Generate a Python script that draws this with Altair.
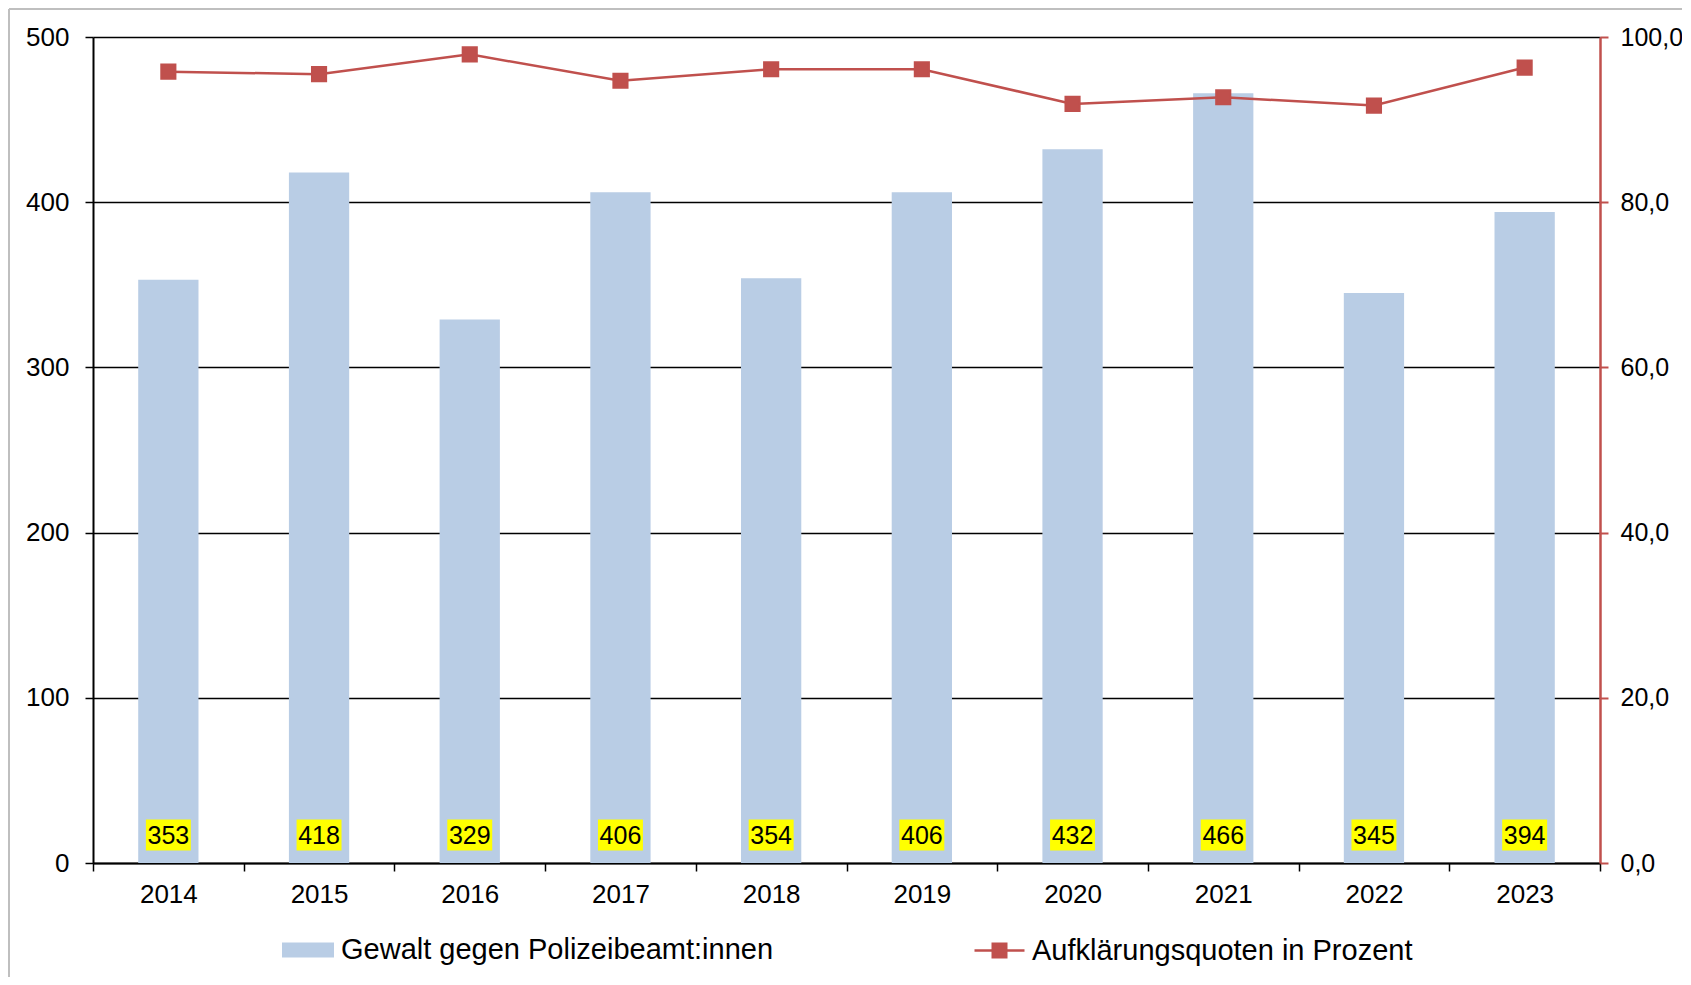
import altair as alt
import pandas as pd

years = ["2014", "2015", "2016", "2017", "2018", "2019", "2020", "2021", "2022", "2023"]
cases = [353, 418, 329, 406, 354, 406, 432, 466, 345, 394]
rates = [95.8, 95.5, 97.9, 94.7, 96.1, 96.1, 91.9, 92.7, 91.7, 96.3]
left_ticks = [0, 100, 200, 300, 400, 500]
right_ticks = [0, 20, 40, 60, 80, 100]
bar_label = "Gewalt gegen Polizeibeamt:innen"
line_label = "Aufklärungsquoten in Prozent"

BAR = "#B9CDE5"
RED = "#C0504D"
FONT = "Liberation Sans"

df = pd.DataFrame({"year": years, "cases": cases, "rate": rates})
df["s_bar"] = bar_label
df["s_line"] = line_label

base = alt.Chart(df)

x_enc = alt.X(
    "year:N",
    title=None,
    scale=alt.Scale(paddingInner=0, paddingOuter=0),
    axis=alt.Axis(
        labelAngle=0, tickBand="extent", domainColor="black", domainWidth=2,
        tickColor="black", tickSize=8, tickWidth=1.5, labelFontSize=26,
        labelPadding=10, labelColor="black", grid=False, labelFont=FONT,
    ),
)

one = alt.Chart(pd.DataFrame({"a": [0]}))
frame_left = one.mark_rule(color="#BFBFBF", strokeWidth=2).encode(
    x=alt.value(-84), y=alt.value(-28), y2=alt.value(3000)
)
frame_top = one.mark_rule(color="#BFBFBF", strokeWidth=2).encode(
    x=alt.value(-84), x2=alt.value(3000), y=alt.value(-28)
)

bars = base.mark_bar(width=alt.RelativeBandSize(0.4)).encode(
    x=x_enc,
    y=alt.Y(
        "cases:Q",
        title=None,
        scale=alt.Scale(domain=[0, 500], nice=False, zero=True),
        axis=alt.Axis(
            values=left_ticks, grid=True, gridColor="black", gridWidth=1.3,
            domainColor="black", domainWidth=2, tickColor="black", tickSize=8,
            tickWidth=1.5, labelFontSize=26, labelPadding=16, labelColor="black",
            labelFont=FONT,
        ),
    ),
    color=alt.Color(
        "s_bar:N",
        scale=alt.Scale(range=[BAR]),
        legend=alt.Legend(
            title=None, orient="none", legendX=189, legendY=887,
            symbolType="M-1,-0.29 L1,-0.29 L1,0.29 L-1,0.29 Z",
            symbolSize=2704, symbolStrokeWidth=0, labelFontSize=29,
            labelFont=FONT, labelColor="black", labelOffset=7, padding=0,
            labelLimit=0,
        ),
    ),
)

box_shape = "M-1.45,-1 L1.45,-1 L1.45,1 L-1.45,1 Z"
boxes = base.mark_point(
    shape=box_shape, size=961, filled=True, color="#FFFF00", opacity=1,
    strokeWidth=0, yOffset=-28,
).encode(x="year:N", y=alt.YDatum(0))

labels = base.mark_text(
    fontSize=25, font=FONT, color="black", baseline="middle", yOffset=-27,
).encode(x="year:N", y=alt.YDatum(0), text="cases:Q")

left = alt.layer(frame_left, frame_top, bars, boxes, labels)

line = base.mark_line(
    strokeWidth=2.5,
    point=alt.OverlayMarkDef(shape="square", size=200, filled=True, color=RED),
).encode(
    x="year:N",
    y=alt.Y(
        "rate:Q",
        title=None,
        scale=alt.Scale(domain=[0, 100], nice=False),
        axis=alt.Axis(
            orient="right", values=right_ticks, grid=False,
            labelExpr="replace(format(datum.value, '.1f'), '.', ',')",
            domainColor=RED, domainWidth=2.5, tickColor=RED, tickSize=8,
            tickWidth=2, labelFontSize=25, labelPadding=12, labelColor="black",
            labelFont=FONT,
        ),
    ),
    stroke=alt.Stroke(
        "s_line:N",
        scale=alt.Scale(range=[RED]),
        legend=alt.Legend(
            title=None, orient="none", legendX=880, legendY=887,
            symbolType="M-1,0 L1,0 M-0.27,-0.27 L0.27,-0.27 L0.27,0.27 L-0.27,0.27 Z",
            symbolSize=2500, symbolStrokeWidth=2.5, symbolFillColor=RED,
            labelFontSize=29, labelFont=FONT, labelColor="black",
            labelOffset=6, padding=0, labelLimit=0,
        ),
    ),
)

chart = (
    alt.layer(left, line)
    .resolve_scale(y="independent")
    .properties(
        width=1507,
        height=826,
        autosize=alt.AutoSizeParams(type="none"),
        padding={"left": 85, "top": 29, "right": 82, "bottom": 114},
    )
    .configure_view(stroke=None, strokeWidth=0)
    .configure(font=FONT)
)

chart.save("out.html", embed_options={"renderer": "svg", "actions": False})
